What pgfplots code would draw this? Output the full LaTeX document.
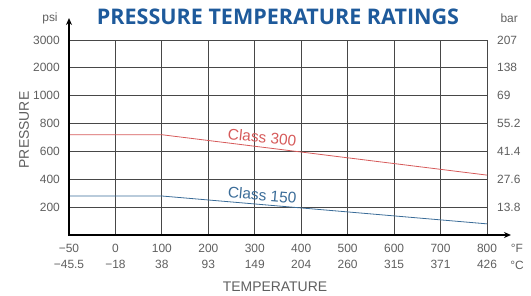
\documentclass[border=0pt]{standalone}
\usepackage{pgfplots}
\pgfplotsset{compat=1.18}
\usepackage{fontspec}
\setmainfont{Liberation Sans}
\newfontfamily\titlefont{Open Sans}
\usetikzlibrary{arrows.meta}
\definecolor{titleblue}{RGB}{30,90,155}
\definecolor{c300}{RGB}{214,90,90}
\definecolor{c150}{RGB}{58,108,152}
\definecolor{lbl}{RGB}{95,95,95}
\begin{document}
\begin{tikzpicture}
\path[use as bounding box] (-69bp,-61bp) rectangle (462bp,235bp);
\begin{axis}[
  at={(0,0)}, anchor=south west, scale only axis,
  width=418bp, height=195bp,
  xmin=0, xmax=9, ymin=0, ymax=7,
  axis line style={draw=none},
  xtick={0,...,9}, ytick={1,...,7},
  xticklabels={{\textminus50\\\textminus45.5},{0\\\textminus18},{100\\38},{200\\93},{300\\149},{400\\204},{500\\260},{600\\315},{700\\371},{800\\426}},
  yticklabels={200,400,600,800,1000,2000,3000},
  grid=major, major grid style={draw=black!72, line width=0.9bp},
  major tick length=0pt,
  tick label style={font=\fontsize{12}{17}\selectfont, text=lbl},
  xticklabel style={align=center, inner sep=0pt, yshift=-8.5bp},
  yticklabel style={inner sep=0pt, xshift=-9bp},
  clip=false,
]
\addplot[c300, line width=0.8bp] table[x expr={\thisrow{F}<0 ? (\thisrow{F}+50)/50 : 1+\thisrow{F}/100}, y expr=\thisrow{psi}/200] {
F psi
-50 720
100 720
800 430
};
\addplot[c150, line width=0.8bp] table[x expr={\thisrow{F}<0 ? (\thisrow{F}+50)/50 : 1+\thisrow{F}/100}, y expr=\thisrow{psi}/200] {
F psi
-50 280
100 280
800 80
};
\draw[line width=1.8bp, -{Stealth[length=7bp,width=6bp]}] ([yshift=-0.9bp]axis cs:0,0) -- ([yshift=22bp]axis cs:0,7);
\draw[line width=1.8bp, -{Stealth[length=7bp,width=6bp]}] ([xshift=-0.9bp]axis cs:0,0) -- ([xshift=24bp]axis cs:9,0);
\node[text=c300, font=\fontsize{15.5}{15.5}\selectfont, rotate=-6] at (axis cs:4.16,3.51) {Class 300};
\node[text=c150, font=\fontsize{15.5}{15.5}\selectfont, rotate=-5] at (axis cs:4.16,1.43) {Class 150};
\end{axis}
\node[text=lbl, font=\fontsize{12}{12}\selectfont] at (448bp,-13bp) {\textdegree F};
\node[text=lbl, font=\fontsize{12}{12}\selectfont] at (448bp,-30bp) {\textdegree C};
\node[text=lbl, font=\fontsize{12}{12}\selectfont] at (-19bp,217bp) {psi};
\node[text=lbl, font=\fontsize{12}{12}\selectfont, anchor=west] at (428bp,217bp) {bar};
\foreach \v [count=\i] in {13.8,27.6,41.4,55.2,69,138,207} {
  \node[text=lbl, font=\fontsize{12}{12}\selectfont, anchor=west, inner sep=0pt] at (428bp,{\i*195/7*1bp}) {\v};
}
\node[text=lbl, font=\fontsize{14}{14}\selectfont] at (206bp,-52bp) {TEMPERATURE};
\node[text=lbl, font=\fontsize{14}{14}\selectfont, rotate=90] at (-45bp,105bp) {PRESSURE};
\node[text=titleblue, font=\titlefont\bfseries\fontsize{21.6}{21.6}\selectfont] at (209bp,218bp) {PRESSURE TEMPERATURE RATINGS};
\end{tikzpicture}
\end{document}
